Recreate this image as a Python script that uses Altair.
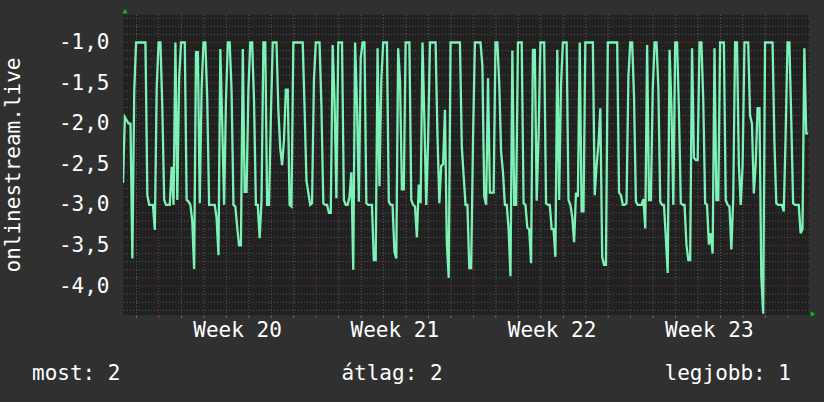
import altair as alt
import pandas as pd

# 2-hour samples of onlinestream.live
values = [
    -2.73, -1.92, -1.96, -2.0, -2.0, -3.66, -1.6, -1.0, -1.0, -1.0, -1.0, -1.0,
    -1.0, -2.88, -3.0, -3.0, -3.0, -3.31, -1.56, -1.0, -1.0, -1.8, -2.94, -3.0,
    -3.0, -3.0, -2.53, -3.0, -1.0, -2.94, -1.44, -1.0, -1.0, -1.0, -2.94, -2.96,
    -3.0, -3.2, -3.79, -1.12, -1.12, -2.98, -1.56, -1.0, -1.0, -1.7, -3.0, -3.0,
    -3.0, -3.0, -3.16, -3.62, -1.08, -1.99, -3.0, -1.72, -1.0, -1.0, -1.6, -3.0,
    -3.02, -3.27, -3.5, -3.5, -1.08, -2.84, -2.84, -1.58, -1.0, -1.0, -1.72, -3.0,
    -3.0, -3.41, -2.95, -1.0, -1.0, -3.0, -3.0, -1.9, -1.0, -1.0, -1.0, -1.83,
    -2.3, -2.51, -2.2, -1.58, -1.58, -3.0, -3.02, -1.0, -1.0, -1.0, -1.0, -1.0,
    -1.0, -1.8, -2.7, -2.85, -3.0, -2.98, -1.46, -1.0, -1.0, -1.0, -1.78, -2.98,
    -3.0, -3.0, -3.1, -3.1, -1.03, -1.7, -2.92, -1.0, -1.0, -1.0, -2.94, -3.0,
    -3.0, -2.9, -2.6, -3.8, -1.0, -1.77, -2.96, -1.19, -1.0, -1.0, -2.98, -3.0,
    -3.0, -3.0, -3.68, -3.68, -1.07, -2.77, -1.46, -1.0, -1.0, -1.0, -2.96, -3.0,
    -3.0, -3.58, -3.66, -1.07, -1.48, -2.81, -2.81, -1.0, -1.0, -1.0, -2.94, -3.0,
    -3.02, -3.4, -2.75, -2.98, -1.0, -1.95, -3.0, -2.2, -1.0, -1.0, -1.0, -1.0,
    -2.15, -2.98, -2.52, -2.5, -1.83, -3.47, -3.9, -1.0, -1.0, -1.0, -1.0, -1.0,
    -1.0, -2.28, -2.65, -3.0, -3.0, -3.78, -3.78, -2.18, -1.0, -1.0, -1.0, -1.0,
    -1.29, -2.9, -3.0, -1.44, -2.85, -2.85, -2.85, -1.0, -1.0, -1.5, -2.35, -2.6,
    -3.0, -3.0, -3.3, -3.88, -1.1, -3.0, -3.0, -1.0, -1.0, -1.0, -2.98, -3.0,
    -3.28, -3.3, -3.72, -1.09, -1.09, -2.95, -2.16, -1.0, -1.0, -1.0, -2.98, -3.0,
    -3.0, -3.3, -3.3, -3.64, -1.09, -2.94, -1.52, -1.0, -1.0, -1.0, -2.94, -3.0,
    -3.15, -3.46, -2.85, -2.9, -1.0, -3.08, -3.08, -1.0, -1.0, -1.0, -1.0, -1.0,
    -2.88, -2.52, -2.25, -1.81, -3.64, -3.74, -3.74, -1.0, -1.0, -1.0, -1.0, -1.0,
    -1.0, -2.85, -2.88, -3.0, -3.0, -2.98, -1.42, -1.0, -1.0, -1.66, -2.96, -3.0,
    -3.0, -3.0, -2.93, -3.29, -1.03, -2.94, -2.94, -1.58, -1.0, -1.0, -1.55, -2.96,
    -3.0, -3.0, -3.4, -3.84, -1.09, -1.8, -3.0, -1.0, -1.0, -1.85, -2.98, -3.0,
    -3.0, -3.49, -3.68, -3.68, -1.07, -2.42, -2.45, -2.45, -1.0, -1.0, -1.72, -2.98,
    -3.0, -3.49, -3.35, -3.6, -1.07, -2.94, -2.94, -1.0, -1.0, -1.0, -2.94, -3.0,
    -3.02, -3.55, -2.93, -1.0, -1.0, -2.5, -3.0, -2.52, -1.0, -1.0, -1.0, -1.9,
    -2.0, -2.86, -2.5, -1.81, -1.81, -3.88, -4.34, -1.0, -1.0, -1.0, -1.0, -1.0,
    -2.22, -2.98, -3.0, -3.0, -3.0, -3.08, -2.14, -1.0, -1.0, -1.95, -2.98, -3.0,
    -3.0, -3.0, -3.35, -3.3, -1.07, -2.12, -2.12,
]
sample_days = 2 / 24  # one sample every two hours

week_starts = [1.6, 8.6, 15.6, 22.6, 29.6]
week_labels = ["Week 20", "Week 21", "Week 22", "Week 23"]
day_lines = [round(0.6 + k, 2) for k in range(30)]
y_major = [-4.0, -3.5, -3.0, -2.5, -2.0, -1.5, -1.0]
y_minor = [round(-4.3 + 0.1 * k, 1) for k in range(37)]
y_title = "onlinestream.live"
footer = ["most: 2", "átlag: 2", "legjobb: 1"]

FONT = "DejaVu Sans Mono"
FS = 21
BG = "#303030"
PLOT_BG = "#212121"
LINE = "#7df2b6"
MINOR = "#575757"
MAJOR = "#7a3434"

W, H = 686, 300

df = pd.DataFrame({"t": [i * sample_days for i in range(len(values))], "v": values})
xs = alt.Scale(domain=[0, 30.54], nice=False, zero=False)
ys = alt.Scale(domain=[-4.357, -0.661], nice=False, zero=False)

y_axis = alt.Axis(
    values=y_major, title=None, ticks=False, domain=False, grid=False,
    labelFont=FONT, labelFontSize=FS, labelColor="white", labelPadding=14,
    labelExpr="replace(replace(format(datum.value, '.1f'), '\u2212', '-'), '.', ',')")

minor_x_df = pd.DataFrame({"x": [d for d in day_lines if d not in week_starts]})
major_x_df = pd.DataFrame({"x": week_starts})
minor_y_df = pd.DataFrame({"y": [v for v in y_minor if v not in y_major]})
major_y_df = pd.DataFrame({"y": y_major})

dash = [1, 2]
minor_x = alt.Chart(minor_x_df).mark_rule(color=MINOR, strokeDash=dash, strokeWidth=1).encode(
    x=alt.X("x:Q", scale=xs, axis=None))
major_x = alt.Chart(major_x_df).mark_rule(color=MAJOR, strokeDash=dash, strokeWidth=1).encode(
    x=alt.X("x:Q", scale=xs, axis=None))
minor_y = alt.Chart(minor_y_df).mark_rule(color=MINOR, strokeDash=dash, strokeWidth=1).encode(
    y=alt.Y("y:Q", scale=ys, axis=y_axis))
major_y = alt.Chart(major_y_df).mark_rule(color=MAJOR, strokeDash=dash, strokeWidth=1).encode(
    y=alt.Y("y:Q", scale=ys, axis=y_axis))

tick_minor = alt.Chart(minor_x_df).mark_rule(color="#666666", strokeWidth=1).encode(
    x=alt.X("x:Q", scale=xs, axis=None), y=alt.value(H), y2=alt.value(H + 3))
tick_major = alt.Chart(major_x_df).mark_rule(color="#a03a3a", strokeWidth=1).encode(
    x=alt.X("x:Q", scale=xs, axis=None), y=alt.value(H), y2=alt.value(H + 3))

line = alt.Chart(df).mark_line(color=LINE, strokeWidth=2.3, clip=True).encode(
    x=alt.X("t:Q", scale=xs, axis=None),
    y=alt.Y("v:Q", scale=ys, axis=y_axis),
)

weeks_df = pd.DataFrame({
    "label": week_labels,
    "mid": [(week_starts[k] + week_starts[k + 1]) / 2 for k in range(len(week_labels))],
})
week_text = alt.Chart(weeks_df).mark_text(
    font=FONT, fontSize=FS, color="white", align="center", baseline="middle").encode(
    x=alt.X("mid:Q", scale=xs, axis=None), y=alt.value(316), text="label:N")

one = pd.DataFrame({"a": [0]})
title_text = alt.Chart(one).mark_text(
    font=FONT, fontSize=FS, color="white", angle=270, align="center", baseline="middle").encode(
    x=alt.value(-109), y=alt.value(150), text=alt.value(y_title))

foot_left = alt.Chart(one).mark_text(
    font=FONT, fontSize=FS, color="white", align="left", baseline="middle").encode(
    x=alt.value(-91), y=alt.value(359), text=alt.value(footer[0]))
foot_mid = alt.Chart(one).mark_text(
    font=FONT, fontSize=FS, color="white", align="center", baseline="middle").encode(
    x=alt.value(269), y=alt.value(359), text=alt.value(footer[1]))
foot_right = alt.Chart(one).mark_text(
    font=FONT, fontSize=FS, color="white", align="right", baseline="middle").encode(
    x=alt.value(668), y=alt.value(359), text=alt.value(footer[2]))

arrow_up = alt.Chart(one).mark_point(shape="triangle-up", filled=True, color="#00cc00", size=25, opacity=1).encode(
    x=alt.value(2), y=alt.value(-4))
arrow_right = alt.Chart(one).mark_point(shape="triangle-right", filled=True, color="#00cc00", size=25, opacity=1).encode(
    x=alt.value(690), y=alt.value(H - 1))

chart = alt.layer(
    minor_x, minor_y, major_x, major_y, tick_minor, tick_major, line,
    week_text, title_text, foot_left, foot_mid, foot_right, arrow_up, arrow_right,
).properties(
    width=W, height=H,
    autosize="none",
    padding={"left": 123, "top": 15, "right": 15, "bottom": 87},
    background=BG,
).configure_view(fill=PLOT_BG, stroke=None)

chart.save("out.html", embed_options={"renderer": "svg", "actions": False})
